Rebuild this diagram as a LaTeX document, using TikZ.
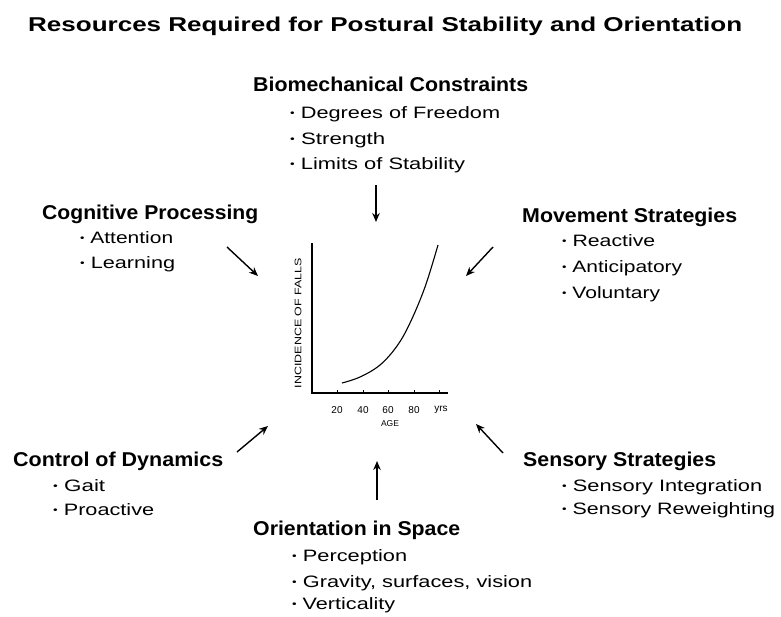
\documentclass[tikz,border=0pt]{standalone}
\usepackage{fontspec}
\setmainfont{Liberation Sans}
\usetikzlibrary{arrows.meta}
\newcommand{\fitw}[2]{\resizebox{#1pt}{\height}{#2}}
\newcommand{\bul}{\raisebox{0.1em}{\scalebox{0.6}{•}}}
\begin{document}
\begin{tikzpicture}[x=1pt,y=-1pt,
 head/.style={anchor=base west, inner sep=0pt, font=\fontsize{20}{21}\selectfont\bfseries},
 item/.style={anchor=base west, inner sep=0pt, font=\fontsize{16.5}{17}\selectfont},
 arr/.style={line width=1.4pt, -{Stealth[length=9pt,width=7.5pt]}},
 axisline/.style={line width=1.2pt},
 small/.style={inner sep=0pt, font=\fontsize{10}{11}\selectfont}]
\useasboundingbox (0,0) rectangle (781,616);
\node[head] (title) at (28,31) {\fitw{714}{Resources Required for Postural Stability and Orientation}};
% Biomechanical
\node[head] (bio) at (253,91) {\fitw{275}{Biomechanical Constraints}};
\node[item] (bio1) at (290,118) {\fitw{210}{\bul\ Degrees of Freedom}};
\node[item] (bio2) at (290,144) {\fitw{95}{\bul\ Strength}};
\node[item] (bio3) at (290,169) {\fitw{175}{\bul\ Limits of Stability}};
% Cognitive
\node[head] (cog) at (42,219) {\fitw{216}{Cognitive Processing}};
\node[item] (cog1) at (80,243) {\fitw{93}{\bul\ Attention}};
\node[item] (cog2) at (80,268) {\fitw{95}{\bul\ Learning}};
% Movement
\node[head] (mov) at (522,222) {\fitw{215}{Movement Strategies}};
\node[item] (mov1) at (562,246) {\fitw{93}{\bul\ Reactive}};
\node[item] (mov2) at (562,272) {\fitw{120}{\bul\ Anticipatory}};
\node[item] (mov3) at (562,298) {\fitw{98}{\bul\ Voluntary}};
% Control
\node[head] (ctl) at (13,466) {\fitw{210}{Control of Dynamics}};
\node[item] (ctl1) at (53,491) {\fitw{52}{\bul\ Gait}};
\node[item] (ctl2) at (53,515) {\fitw{101}{\bul\ Proactive}};
% Sensory
\node[head] (sen) at (523,466) {\fitw{193}{Sensory Strategies}};
\node[item] (sen1) at (562,491) {\fitw{200}{\bul\ Sensory Integration}};
\node[item] (sen2) at (562,514) {\fitw{213}{\bul\ Sensory Reweighting}};
% Orientation
\node[head] (ori) at (253,535) {\fitw{207}{Orientation in Space}};
\node[item] (ori1) at (292,561) {\fitw{115}{\bul\ Perception}};
\node[item] (ori2) at (292,587) {\fitw{240}{\bul\ Gravity, surfaces, vision}};
\node[item] (ori3) at (292,609) {\fitw{103}{\bul\ Verticality}};
% graph
\coordinate (ytop) at (312,243);
\coordinate (O) at (312,393);
\coordinate (xend) at (448,393);
\draw[axisline] (ytop) -- (O) -- (xend);
\foreach \x in {337,363,388,414,439} \draw[line width=1pt] (\x,393) -- (\x,389.5);
\node[small] (t20) at (337,410) {20};
\node[small] (t40) at (363,410) {40};
\node[small] (t60) at (388,410) {60};
\node[small] (t80) at (414,410) {80};
\node[small] (tyr) at (441,409.5) {yrs};
\node[small, font=\fontsize{8.5}{9}\selectfont] (age) at (390,424) {AGE};
\node[small, rotate=90, font=\fontsize{9.5}{10}\selectfont] (ylab) at (298,323) {\fitw{130}{INCIDENCE OF FALLS}};
\draw[line width=1.1pt] plot[smooth, tension=0.6] coordinates {(342,383) (360,377) (380,365) (397,346) (410,323) (425,287) (438,245)};
% arrows
\coordinate (a1s) at (376,185); \coordinate (a1e) at (376,222);
\coordinate (a2s) at (227,247); \coordinate (a2e) at (258,276);
\coordinate (a3s) at (493,247); \coordinate (a3e) at (466,276);
\coordinate (a4s) at (237,452); \coordinate (a4e) at (268,426);
\coordinate (a5s) at (503,453); \coordinate (a5e) at (476,424);
\coordinate (a6s) at (377,500); \coordinate (a6e) at (377,461);
\draw[arr] (a1s) -- (a1e);
\draw[arr] (a2s) -- (a2e);
\draw[arr] (a3s) -- (a3e);
\draw[arr] (a4s) -- (a4e);
\draw[arr] (a5s) -- (a5e);
\draw[arr] (a6s) -- (a6e);
\end{tikzpicture}
\end{document}
